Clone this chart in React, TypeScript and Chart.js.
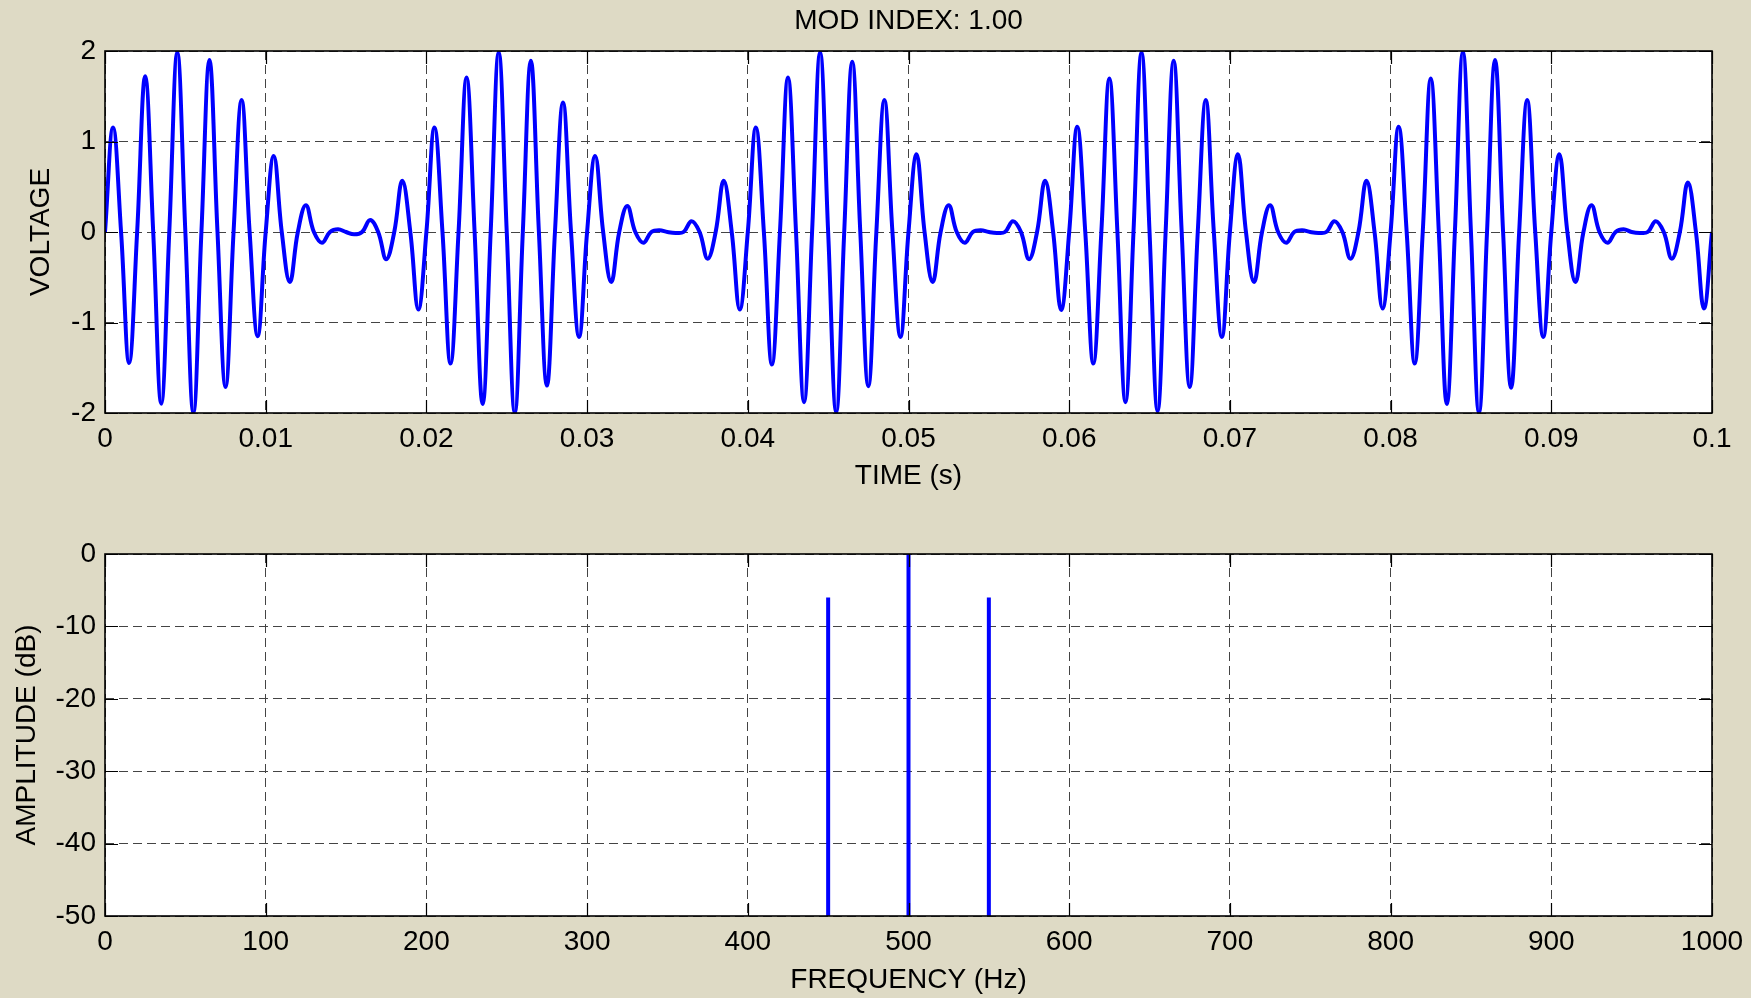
import { useEffect, useRef } from "react";
import { Chart, registerables } from "chart.js";

Chart.register(...registerables);

const PAGE_BG = "rgb(222,218,197)";
const FONT_FAMILY = '"Liberation Sans", Arial, Helvetica, sans-serif';
const GRID_COLOR = "#444444";
const TRACE_COLOR = "#0000ff";
const TICK_LEN = 13;

// Modulated carrier, one sample every half millisecond (zero crossings and crests).
const SAMPLE_STEP_S = 0.0005;
const VOLTAGE: number[] = [
  0, 1.155, 0, -1.447, 0, 1.72, 0, -1.897, 0, 1.985, 0, -2.0, 0, 1.9, 0, -1.712, 0, 1.458, 0, -1.151,
  0, 0.841, 0, -0.553, 0, 0.295, 0, -0.118, 0, 0.03, 0, -0.026, 0, 0.133, 0, -0.3, 0, 0.565, 0, -0.856,
  0, 1.155, 0, -1.454, 0, 1.708, 0, -1.9, 0, 1.985, 0, -2.0, 0, 1.893, 0, -1.697, 0, 1.43, 0, -1.159,
  0, 0.841, 0, -0.553, 0, 0.288, 0, -0.118, 0, 0.02, 0, -0.01, 0, 0.12, 0, -0.295, 0, 0.565, 0, -0.856,
  0, 1.155, 0, -1.465, 0, 1.708, 0, -1.88, 0, 1.985, 0, -1.99, 0, 1.88, 0, -1.705, 0, 1.458, 0, -1.159,
  0, 0.86, 0, -0.553, 0, 0.295, 0, -0.118, 0, 0.02, 0, -0.01, 0, 0.12, 0, -0.3, 0, 0.565, 0, -0.863,
  0, 1.163, 0, -1.454, 0, 1.697, 0, -1.88, 0, 1.985, 0, -1.98, 0, 1.893, 0, -1.712, 0, 1.458, 0, -1.159,
  0, 0.86, 0, -0.553, 0, 0.295, 0, -0.118, 0, 0.02, 0, -0.01, 0, 0.12, 0, -0.295, 0, 0.565, 0, -0.845,
  0, 1.163, 0, -1.454, 0, 1.697, 0, -1.9, 0, 1.99, 0, -2.0, 0, 1.9, 0, -1.72, 0, 1.458, 0, -1.159,
  0, 0.86, 0, -0.553, 0, 0.295, 0, -0.118, 0, 0.03, 0, -0.01, 0, 0.12, 0, -0.295, 0, 0.546, 0, -0.845,
  0,
];

const TIME_TICKS = [0, 0.01, 0.02, 0.03, 0.04, 0.05, 0.06, 0.07, 0.08, 0.09, 0.1];
const TIME_TICK_LABELS = ["0", "0.01", "0.02", "0.03", "0.04", "0.05", "0.06", "0.07", "0.08", "0.09", "0.1"];
const VOLT_TICKS = [-2, -1, 0, 1, 2];

// Spectrum: carrier and the two sidebands, in dB.
const FREQ_TICKS = [0, 100, 200, 300, 400, 500, 600, 700, 800, 900, 1000];
const DB_TICKS = [-50, -40, -30, -20, -10, 0];
const STEM_FREQS_HZ = [450, 500, 550];
const STEM_LEVELS_DB = [-6.02, 0, -6.02];

const font = (size: number) => ({ family: FONT_FAMILY, size, weight: "normal" as const });

const framePlugin = {
  id: "frame",
  beforeDraw(chart: any) {
    const { ctx, chartArea } = chart;
    const { left, top, right, bottom } = chartArea;
    ctx.save();
    ctx.fillStyle = "#ffffff";
    ctx.fillRect(left, top, right - left, bottom - top);
    ctx.restore();
  },
  afterDatasetsDraw(chart: any) {
    const { ctx, chartArea, scales } = chart;
    const { left, top, right, bottom } = chartArea;
    const xs = scales.x;
    const ys = scales.y;
    ctx.save();
    ctx.strokeStyle = "#000000";
    ctx.lineWidth = 1.2;
    ctx.beginPath();
    for (const t of xs.ticks) {
      const px = Math.round(xs.getPixelForValue(t.value)) + 0.5;
      ctx.moveTo(px, bottom);
      ctx.lineTo(px, bottom - TICK_LEN);
      ctx.moveTo(px, top);
      ctx.lineTo(px, top + TICK_LEN);
    }
    for (const t of ys.ticks) {
      const py = Math.round(ys.getPixelForValue(t.value)) + 0.5;
      ctx.moveTo(left, py);
      ctx.lineTo(left + TICK_LEN, py);
      ctx.moveTo(right, py);
      ctx.lineTo(right - TICK_LEN, py);
    }
    ctx.stroke();
    ctx.lineWidth = 1.6;
    ctx.strokeRect(left, top, right - left, bottom - top);
    ctx.restore();
  },
};

function axisOptions(
  ticks: number[],
  labels: (v: number, i: number) => string,
  min: number,
  max: number,
  size: { width?: number; height?: number },
  title: string,
  titlePadding: { top: number; bottom: number },
  tickPadding: number
) {
  return {
    type: "linear" as const,
    min,
    max,
    afterBuildTicks: (s: any) => {
      s.ticks = ticks.map((v) => ({ value: v }));
    },
    afterFit: (s: any) => {
      if (size.width !== undefined) s.width = size.width;
      if (size.height !== undefined) s.height = size.height;
      s.paddingLeft = 0;
      s.paddingRight = 0;
      s.paddingTop = 0;
      s.paddingBottom = 0;
    },
    ticks: {
      color: "#000000",
      font: font(28),
      padding: tickPadding,
      autoSkip: false,
      maxRotation: 0,
      minRotation: 0,
      callback: (v: any, i: number) => labels(v, i),
    },
    grid: { color: GRID_COLOR, lineWidth: 1, drawTicks: false },
    border: { display: false, dash: [9, 5] },
    title: { display: true, text: title, color: "#000000", font: font(28), padding: titlePadding },
  };
}

export default function App() {
  const topRef = useRef<HTMLCanvasElement>(null);
  const botRef = useRef<HTMLCanvasElement>(null);

  useEffect(() => {
    const wave = VOLTAGE.map((v, i) => ({ x: i * SAMPLE_STEP_S, y: v }));

    const dbFloor = DB_TICKS[0];
    const stems: { x: number; y: number | null }[] = [];
    STEM_FREQS_HZ.forEach((f, i) => {
      stems.push({ x: f, y: dbFloor }, { x: f, y: STEM_LEVELS_DB[i] }, { x: f, y: null });
    });

    const topChart = new Chart(topRef.current!, {
      type: "line",
      data: {
        datasets: [
          {
            data: wave,
            borderColor: TRACE_COLOR,
            borderWidth: 4,
            pointRadius: 0,
            tension: 0.4,
            fill: false,
            clip: 0,
          },
        ],
      },
      options: {
        animation: false,
        responsive: false,
        devicePixelRatio: 1,
        layout: { padding: { left: 0, right: 39, top: 0, bottom: 0 } },
        plugins: {
          legend: { display: false },
          tooltip: { enabled: false },
          title: {
            display: true,
            text: "MOD INDEX: 1.00",
            color: "#000000",
            font: font(28),
            fullSize: false,
            padding: { top: 4, bottom: 13.4 },
          },
        },
        scales: {
          x: axisOptions(
            TIME_TICKS,
            (_v, i) => TIME_TICK_LABELS[i],
            0,
            0.1,
            { height: 87 },
            "TIME (s)",
            { top: 0, bottom: 7 },
            9
          ),
          y: axisOptions(
            VOLT_TICKS,
            (v) => String(v),
            -2,
            2,
            { width: 105 },
            "VOLTAGE",
            { top: 24, bottom: 0 },
            9
          ),
        },
      } as any,
      plugins: [framePlugin],
    });

    const botChart = new Chart(botRef.current!, {
      type: "line",
      data: {
        datasets: [
          {
            data: stems as any,
            borderColor: TRACE_COLOR,
            borderWidth: 4,
            pointRadius: 0,
            tension: 0,
            spanGaps: false,
            fill: false,
            clip: 0,
          },
        ],
      },
      options: {
        animation: false,
        responsive: false,
        devicePixelRatio: 1,
        layout: { padding: { left: 0, right: 39, top: 54, bottom: 0 } },
        plugins: {
          legend: { display: false },
          tooltip: { enabled: false },
        },
        scales: {
          x: axisOptions(
            FREQ_TICKS,
            (v) => String(v),
            0,
            1000,
            { height: 82 },
            "FREQUENCY (Hz)",
            { top: 0, bottom: 1 },
            9
          ),
          y: axisOptions(
            DB_TICKS,
            (v) => String(v),
            -50,
            0,
            { width: 105 },
            "AMPLITUDE (dB)",
            { top: 10, bottom: 0 },
            9
          ),
        },
      } as any,
      plugins: [framePlugin],
    });

    return () => {
      topChart.destroy();
      botChart.destroy();
    };
  }, []);

  return (
    <div
      style={{
        position: "fixed",
        left: 0,
        top: 0,
        width: 1751,
        height: 998,
        background: PAGE_BG,
        overflow: "hidden",
      }}
    >
      <canvas
        ref={topRef}
        width={1751}
        height={500}
        style={{ position: "absolute", left: 0, top: 0, width: 1751, height: 500 }}
      />
      <canvas
        ref={botRef}
        width={1751}
        height={498}
        style={{ position: "absolute", left: 0, top: 500, width: 1751, height: 498 }}
      />
    </div>
  );
}
